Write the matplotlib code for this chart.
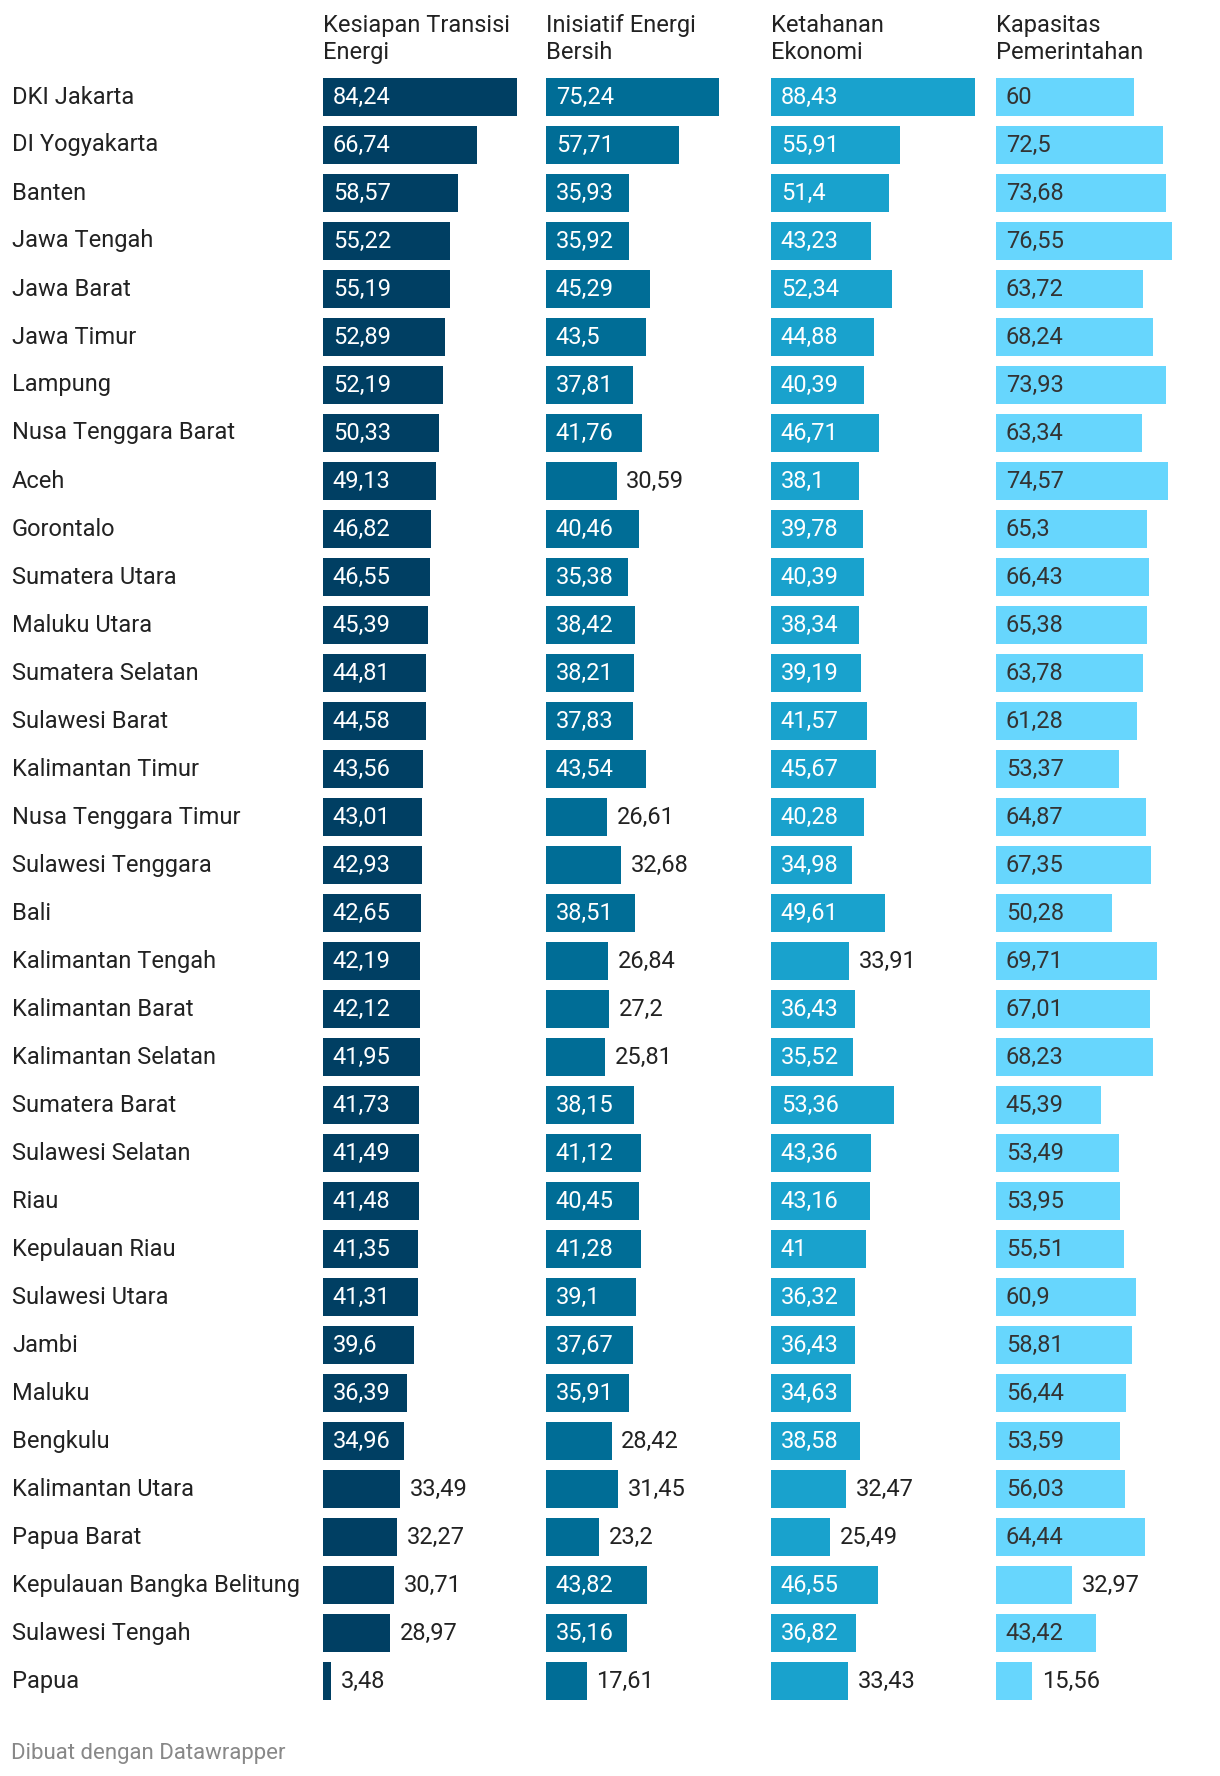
import matplotlib
matplotlib.use("Agg")
import matplotlib.pyplot as plt
from matplotlib.transforms import blended_transform_factory

plt.rcParams['font.family'] = ['Roboto', 'DejaVu Sans']

provinces = [
    "DKI Jakarta", "DI Yogyakarta", "Banten", "Jawa Tengah", "Jawa Barat",
    "Jawa Timur", "Lampung", "Nusa Tenggara Barat", "Aceh", "Gorontalo",
    "Sumatera Utara", "Maluku Utara", "Sumatera Selatan", "Sulawesi Barat",
    "Kalimantan Timur", "Nusa Tenggara Timur", "Sulawesi Tenggara", "Bali",
    "Kalimantan Tengah", "Kalimantan Barat", "Kalimantan Selatan",
    "Sumatera Barat", "Sulawesi Selatan", "Riau", "Kepulauan Riau",
    "Sulawesi Utara", "Jambi", "Maluku", "Bengkulu", "Kalimantan Utara",
    "Papua Barat", "Kepulauan Bangka Belitung", "Sulawesi Tengah", "Papua",
]

kesiapan = [84.24, 66.74, 58.57, 55.22, 55.19, 52.89, 52.19, 50.33, 49.13, 46.82,
            46.55, 45.39, 44.81, 44.58, 43.56, 43.01, 42.93, 42.65, 42.19, 42.12,
            41.95, 41.73, 41.49, 41.48, 41.35, 41.31, 39.6, 36.39, 34.96, 33.49,
            32.27, 30.71, 28.97, 3.48]
inisiatif = [75.24, 57.71, 35.93, 35.92, 45.29, 43.5, 37.81, 41.76, 30.59, 40.46,
             35.38, 38.42, 38.21, 37.83, 43.54, 26.61, 32.68, 38.51, 26.84, 27.2,
             25.81, 38.15, 41.12, 40.45, 41.28, 39.1, 37.67, 35.91, 28.42, 31.45,
             23.2, 43.82, 35.16, 17.61]
ketahanan = [88.43, 55.91, 51.4, 43.23, 52.34, 44.88, 40.39, 46.71, 38.1, 39.78,
             40.39, 38.34, 39.19, 41.57, 45.67, 40.28, 34.98, 49.61, 33.91, 36.43,
             35.52, 53.36, 43.36, 43.16, 41.0, 36.32, 36.43, 34.63, 38.58, 32.47,
             25.49, 46.55, 36.82, 33.43]
kapasitas = [60, 72.5, 73.68, 76.55, 63.72, 68.24, 73.93, 63.34, 74.57, 65.3,
             66.43, 65.38, 63.78, 61.28, 53.37, 64.87, 67.35, 50.28, 69.71, 67.01,
             68.23, 45.39, 53.49, 53.95, 55.51, 60.9, 58.81, 56.44, 53.59, 56.03,
             64.44, 32.97, 43.42, 15.56]

headers = ["Kesiapan Transisi\nEnergi", "Inisiatif Energi\nBersih",
           "Ketahanan\nEkonomi", "Kapasitas\nPemerintahan"]
series = [kesiapan, inisiatif, ketahanan, kapasitas]
colors = ["#003f63", "#006d96", "#19a2cd", "#67d6fd"]
inside_text = ["white", "white", "white", "#333333"]

W, H = 1220, 1776
fig = plt.figure(figsize=(W / 100, H / 100), dpi=100)

col_left = [323, 546, 771, 996]   # px
px_per_unit = 2.305
col_w = 224
row0, pitch = 97, 48
n = len(provinces)
top = row0 - pitch / 2
height = pitch * n
fs = 17

def fx(px):
    return px / W

def fy(py):
    return 1 - py / H

axes = []
for ci, (vals, head, col, tcol) in enumerate(zip(series, headers, colors, inside_text)):
    ax = fig.add_axes([fx(col_left[ci]), fy(top + height), fx(col_w), height / H])
    ax.set_xlim(0, col_w / px_per_unit)
    ax.set_ylim(n - 0.5, -0.5)
    ax.axis("off")
    ys = list(range(n))
    ax.barh(ys, vals, height=0.8, color=col, left=0)
    for y, v in zip(ys, vals):
        lab = f"{v:g}".replace(".", ",")
        if v >= 34:
            # label fits inside the bar
            ax.annotate(lab, (0, y), xytext=(7, 0), textcoords="offset points",
                        va="center", ha="left", color=tcol, fontsize=fs)
        else:
            ax.annotate(lab, (v, y), xytext=(7, 0), textcoords="offset points",
                        va="center", ha="left", color="#222222", fontsize=fs)
    fig.text(fx(col_left[ci]), fy(39), head, ha="left", va="center",
             fontsize=fs, color="#222222", linespacing=1.25)
    axes.append(ax)

tr = blended_transform_factory(fig.transFigure, axes[0].transData)
for y, name in enumerate(provinces):
    axes[0].text(fx(12), y, name, transform=tr, ha="left", va="center",
                 fontsize=fs, color="#222222")

fig.text(fx(11), fy(1753), "Dibuat dengan Datawrapper", ha="left", va="center",
         fontsize=16, color="#888888")

fig.savefig("out.png", dpi=100, facecolor="white")
